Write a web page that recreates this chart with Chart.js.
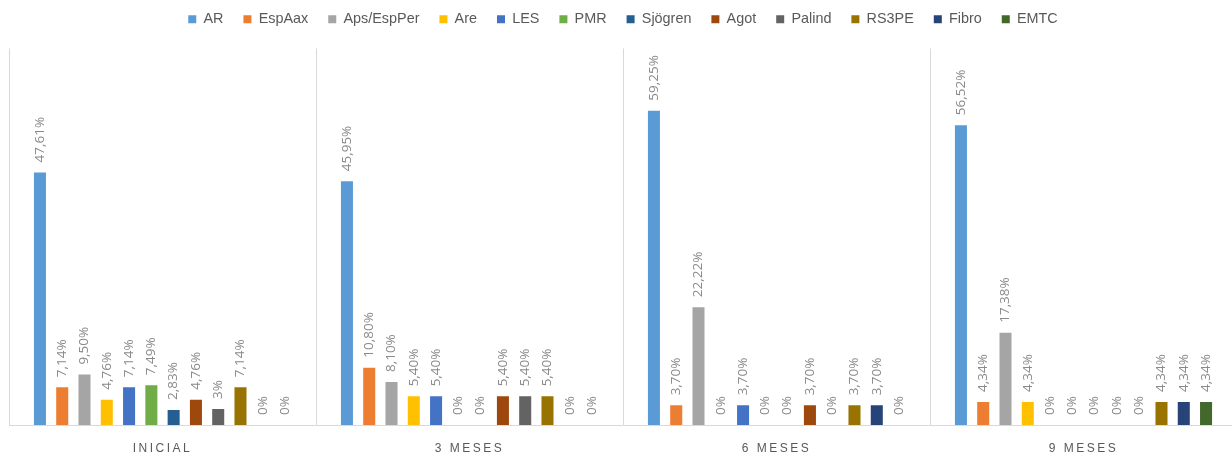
<!DOCTYPE html>
<html>
<head>
<meta charset="utf-8">
<script src="https://cdn.jsdelivr.net/npm/chart.js@4/dist/chart.umd.min.js"></script>
<style>
  html, body { margin: 0; padding: 0; background: #fff; overflow: hidden; }
  #wrap { width: 1240px; height: 452px; }
</style>
</head>
<body>
<div id="wrap"><canvas id="chart" width="1240" height="452"></canvas></div>
<script>
const periods = ["INICIAL", "3 MESES", "6 MESES", "9 MESES"];

const seriesNames = ["AR", "EspAax", "Aps/EspPer", "Are", "LES", "PMR", "Sjögren", "Agot", "Palind", "RS3PE", "Fibro", "EMTC"];
const seriesColors = ["#5B9BD5", "#ED7D31", "#A5A5A5", "#FFC000", "#4472C4", "#70AD47", "#255E91", "#9E480E", "#636363", "#997300", "#264478", "#43682B"];

// percentage per diagnosis, one value per period
const ar       = [47.61, 45.95, 59.25, 56.52];
const espAax   = [7.14, 10.80, 3.70, 4.34];
const apsEsp   = [9.50, 8.10, 22.22, 17.38];
const are      = [4.76, 5.40, 0, 4.34];
const les      = [7.14, 5.40, 3.70, 0];
const pmr      = [7.49, 0, 0, 0];
const sjogren  = [2.83, 0, 0, 0];
const agot     = [4.76, 5.40, 3.70, 0];
const palind   = [3, 5.40, 0, 0];
const rs3pe    = [7.14, 5.40, 3.70, 4.34];
const fibro    = [0, 0, 3.70, 4.34];
const emtc     = [0, 0, 0, 4.34];

const seriesValues = [ar, espAax, apsEsp, are, les, pmr, sjogren, agot, palind, rs3pe, fibro, emtc];

function pct(v) {
  if (Number.isInteger(v)) return v + "%";
  return v.toFixed(2).replace(".", ",") + "%";
}

// vertical value labels above each bar
const barLabels = {
  id: "barLabels",
  afterDatasetsDraw(chart) {
    const ctx = chart.ctx;
    ctx.save();
    ctx.font = "13.5px 'Open Sans'";
    ctx.fillStyle = "#8a8a8a";
    ctx.textAlign = "left";
    ctx.textBaseline = "middle";
    chart.data.datasets.forEach((ds, i) => {
      const meta = chart.getDatasetMeta(i);
      meta.data.forEach((bar, j) => {
        ctx.save();
        ctx.translate(bar.x, bar.y - 10);
        ctx.rotate(-Math.PI / 2);
        ctx.fillText(pct(ds.data[j]), 0, 0);
        ctx.restore();
      });
    });
    ctx.restore();
  }
};

// spaced-out category names, legend nudged up a bit
const layoutTweaks = {
  id: "layoutTweaks",
  afterLayout(chart) {
    const lg = chart.legend;
    lg.top -= 12;
    lg.bottom -= 12;
    const sc = chart.scales.x;
    if (sc._spaced) return;
    const orig = sc.drawLabels.bind(sc);
    sc.drawLabels = function (area) {
      chart.ctx.save();
      chart.ctx.letterSpacing = "2.5px";
      orig(area);
      chart.ctx.restore();
    };
    sc._spaced = true;
  }
};

new Chart(document.getElementById("chart"), {
  type: "bar",
  data: {
    labels: periods,
    datasets: seriesNames.map((name, i) => ({
      label: name,
      data: seriesValues[i],
      backgroundColor: seriesColors[i],
      borderWidth: 0,
      barPercentage: 0.54,
      categoryPercentage: 0.871
    }))
  },
  options: {
    responsive: false,
    animation: false,
    layout: { padding: { left: 9, right: 3, top: 4, bottom: 0 } },
    plugins: {
      tooltip: { enabled: false },
      legend: {
        position: "top",
        labels: {
          boxWidth: 8,
          boxHeight: 8,
          padding: 20,
          color: "#595959",
          font: { family: "'Liberation Sans'", size: 14.4 }
        }
      }
    },
    scales: {
      x: {
        grid: { color: "#d9d9d9", drawTicks: false, offset: true },
        border: { color: "#d9d9d9" },
        afterFit(scale) { scale.height = 27; },
        ticks: {
          color: "#595959",
          padding: 18,
          font: { family: "'Liberation Sans'", size: 12, lineHeight: 1 }
        }
      },
      y: {
        display: false,
        min: 0,
        max: 71
      }
    }
  },
  plugins: [barLabels, layoutTweaks]
});
</script>
</body>
</html>
